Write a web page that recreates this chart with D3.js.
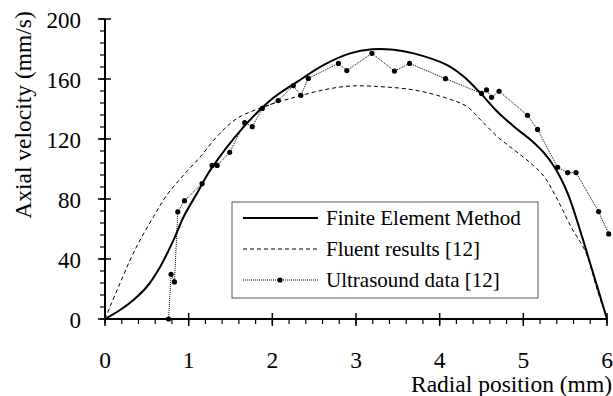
<!DOCTYPE html>
<html>
<head>
<meta charset="utf-8">
<script src="https://cdn.jsdelivr.net/npm/d3@7"></script>
<style>
  body { margin: 0; background: #fff; }
  text { font-family: "Liberation Serif", "Times New Roman", serif; fill: #000; }
</style>
</head>
<body>
<svg id="chart"></svg>
<script>
// finite element solution
const femX = [0, 0.18, 0.34, 0.50, 0.66, 0.82, 0.94, 1.10, 1.26, 1.66, 1.98, 2.30, 2.61, 2.93, 3.19, 3.45, 3.69, 4.09, 4.29, 4.49, 4.69, 4.89, 5.09, 5.25, 5.37, 5.53, 5.69, 5.81, 6.0];
const femY = [0, 6, 12.7, 21.5, 34.9, 52.7, 68.2, 83.8, 99.3, 128.2, 146, 158.2, 169.3, 177.1, 179.8, 179.5, 177.1, 169.3, 161.5, 150.4, 138.2, 128.2, 119.3, 110.5, 101.5, 83.8, 57, 35, 0];

// Fluent results [12]
const fluentX = [0, 0.06, 0.18, 0.30, 0.42, 0.58, 0.74, 0.94, 1.14, 1.36, 1.58, 1.88, 2.22, 2.61, 2.93, 3.29, 3.69, 4.09, 4.33, 4.49, 4.69, 4.89, 5.09, 5.25, 5.41, 5.57, 5.75, 5.88, 6.0];
const fluentY = [0, 8.2, 23.8, 39.3, 52.7, 68.2, 82.7, 96, 108.2, 123, 133.8, 141.1, 147.1, 152.7, 155.3, 154.9, 152.7, 147.1, 141.5, 132.7, 121.5, 112.7, 103.8, 94.9, 79.3, 61.5, 44, 20, 0];

// Ultrasound data [12]
const usX = [0.76, 0.79, 0.83, 0.87, 0.95, 1.16, 1.28, 1.34, 1.49, 1.67, 1.76, 1.88, 2.07, 2.25, 2.34, 2.43, 2.79, 2.89, 3.19, 3.46, 3.64, 4.07, 4.50, 4.56, 4.62, 4.71, 5.05, 5.17, 5.41, 5.53, 5.63, 5.90, 6.02];
const usY = [0, 29.8, 24.7, 71.5, 78.9, 90.2, 102.4, 102.4, 111.1, 130.9, 128.2, 140.4, 145.6, 155.6, 149.1, 160.4, 170.4, 165.6, 177.1, 165.3, 170.4, 160.2, 150.4, 152.7, 147.8, 151.8, 135.8, 126.4, 101.1, 97.6, 97.6, 71.6, 56.7];

const xTicks = [0, 1, 2, 3, 4, 5, 6];
const yTicks = [0, 40, 80, 120, 160, 200];
const legendLabels = ["Finite Element Method", "Fluent results [12]", "Ultrasound data [12]"];

const width = 613, height = 396;
const svg = d3.select("#chart").attr("width", width).attr("height", height);

const x = d3.scaleLinear().domain([0, 6]).range([105, 607]);
const y = d3.scaleLinear().domain([0, 200]).range([319, 19]);

const zip = (xs, ys) => xs.map((v, i) => [v, ys[i]]);
const fem = zip(femX, femY);
const fluent = zip(fluentX, fluentY);
const us = zip(usX, usY);

// x ticks: minor every 0.2 below the axis, major crossing it
const gx = svg.append("g");
gx.selectAll("line.minor").data(d3.range(0, 6.001, 0.2)).join("line")
    .attr("x1", d => x(d)).attr("x2", d => x(d))
    .attr("y1", y(0)).attr("y2", y(0) + 5)
    .attr("stroke", "#000").attr("stroke-width", 1.2);
gx.selectAll("line.major").data(xTicks).join("line")
    .attr("x1", d => x(d)).attr("x2", d => x(d))
    .attr("y1", y(0) - 6).attr("y2", y(0) + 7)
    .attr("stroke", "#000").attr("stroke-width", 1.5);
gx.selectAll("text").data(xTicks).join("text")
    .attr("x", d => x(d)).attr("y", 368)
    .attr("text-anchor", "middle")
    .style("font-size", "23.5px")
    .text(d => d);

const gy = svg.append("g");
gy.selectAll("line.minor").data(d3.range(0, 200.001, 8)).join("line")
    .attr("x1", x(0) - 5).attr("x2", x(0))
    .attr("y1", d => y(d)).attr("y2", d => y(d))
    .attr("stroke", "#000").attr("stroke-width", 1.2);
gy.selectAll("line.major").data(yTicks).join("line")
    .attr("x1", x(0) - 7).attr("x2", x(0) + 6)
    .attr("y1", d => y(d)).attr("y2", d => y(d))
    .attr("stroke", "#000").attr("stroke-width", 1.5);
gy.selectAll("text").data(yTicks).join("text")
    .attr("x", 81).attr("y", d => y(d) + 9)
    .attr("text-anchor", "end")
    .style("font-size", "23px")
    .text(d => d);

// axis lines
svg.append("line").attr("x1", x(0)).attr("x2", x(6)).attr("y1", y(0)).attr("y2", y(0))
    .attr("stroke", "#000").attr("stroke-width", 2);
svg.append("line").attr("x1", x(0)).attr("x2", x(0)).attr("y1", y(0)).attr("y2", y(200))
    .attr("stroke", "#000").attr("stroke-width", 2);

// axis titles
svg.append("text")
    .attr("x", 612).attr("y", 392)
    .attr("text-anchor", "end")
    .style("font-size", "23.5px")
    .text("Radial position (mm)");
svg.append("text")
    .attr("transform", "translate(31,115) rotate(-90)")
    .attr("text-anchor", "middle")
    .style("font-size", "23.5px")
    .text("Axial velocity (mm/s)");

const line = d3.line().x(d => x(d[0])).y(d => y(d[1]));
const smooth = d3.line().x(d => x(d[0])).y(d => y(d[1])).curve(d3.curveCatmullRom.alpha(0.5));

svg.append("path").datum(fluent).attr("d", smooth)
    .attr("fill", "none").attr("stroke", "#000").attr("stroke-width", 1)
    .attr("stroke-dasharray", "4,3");
svg.append("path").datum(us).attr("d", line)
    .attr("fill", "none").attr("stroke", "#000").attr("stroke-width", 1)
    .attr("stroke-dasharray", "1,1");
svg.append("path").datum(fem).attr("d", smooth)
    .attr("fill", "none").attr("stroke", "#000").attr("stroke-width", 2);
svg.append("g").selectAll("circle").data(us).join("circle")
    .attr("cx", d => x(d[0])).attr("cy", d => y(d[1]))
    .attr("r", 2.6).attr("fill", "#000");

// legend
const legend = svg.append("g");
legend.append("rect")
    .attr("x", 232).attr("y", 202).attr("width", 306).attr("height", 96)
    .attr("fill", "#fff").attr("stroke", "#555").attr("stroke-width", 1);
const rows = [218, 249, 280];
const styles = [
    { w: 2, dash: null },
    { w: 1, dash: "4,3" },
    { w: 1, dash: "1,1" }
];
legendLabels.forEach((label, i) => {
    const ln = legend.append("line")
        .attr("x1", 243).attr("x2", 318).attr("y1", rows[i]).attr("y2", rows[i])
        .attr("stroke", "#000").attr("stroke-width", styles[i].w);
    if (styles[i].dash) ln.attr("stroke-dasharray", styles[i].dash);
    legend.append("text")
        .attr("x", 326).attr("y", rows[i] + 7)
        .style("font-size", "21px")
        .text(label);
});
legend.append("circle").attr("cx", 280).attr("cy", rows[2]).attr("r", 2.6).attr("fill", "#000");
</script>
</body>
</html>
